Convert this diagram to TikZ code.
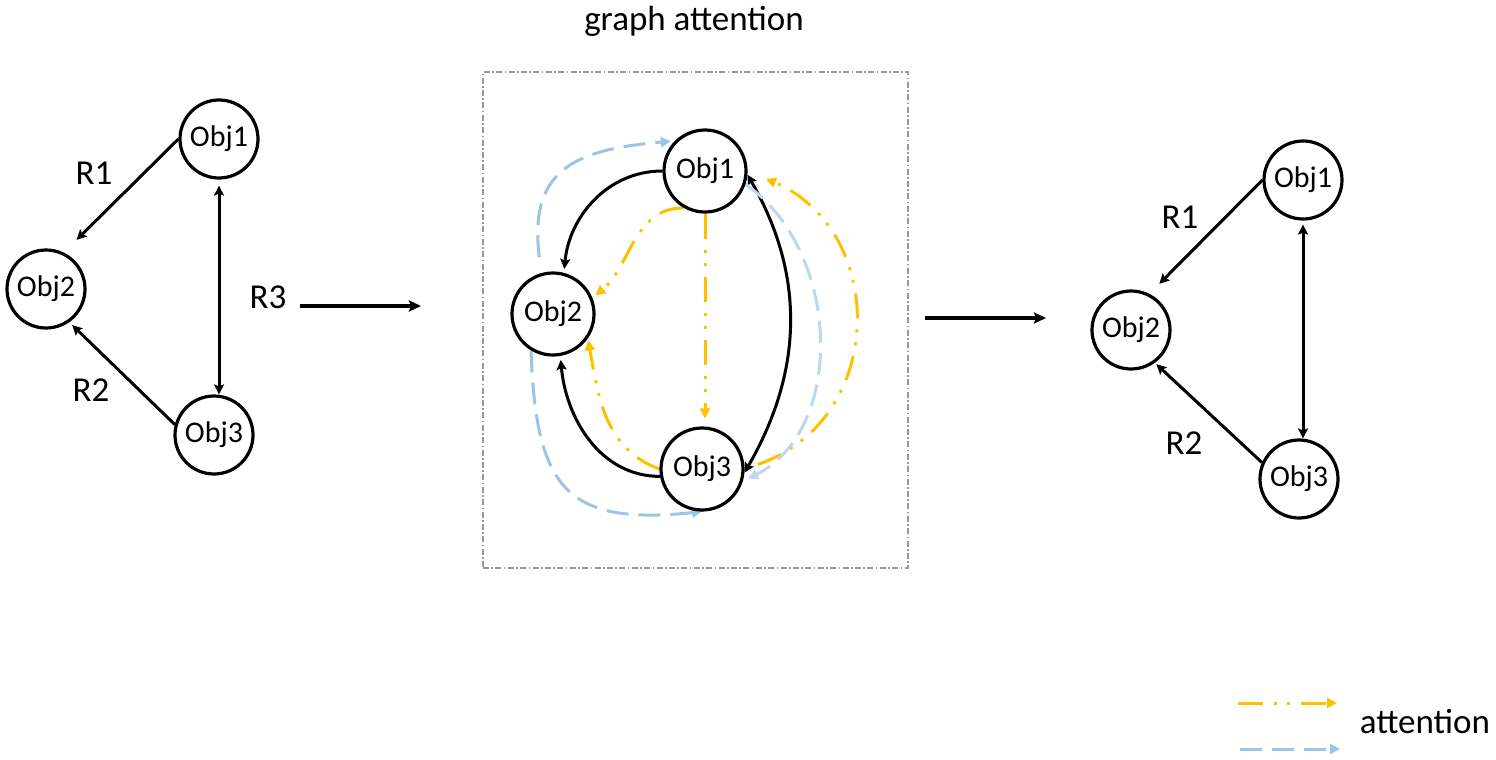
\documentclass[tikz,border=0pt]{standalone}
\usepackage{fontspec}
\setmainfont{Carlito}
\usetikzlibrary{arrows.meta}
\pgfdeclarelayer{bg}
\pgfsetlayers{bg,main}
\definecolor{attnyellow}{HTML}{FFC000}
\definecolor{attnblue}{HTML}{9DC3E6}
\definecolor{attnpale}{HTML}{BDD7EE}
\tikzset{
  obj/.style={circle, draw, line width=1.6pt, fill=white, minimum size=39pt,
    inner sep=0pt, font=\fontsize{15}{17}\selectfont},
  bigobj/.style={obj, minimum size=41pt},
  rel/.style={font=\fontsize{17.5}{20}\selectfont},
  relarrow/.style={line width=1.5pt, -{Stealth[length=5pt,width=5pt,inset=1pt]}},
  dblarrow/.style={line width=1.5pt,
    {Stealth[length=5pt,width=5pt,inset=1pt]}-{Stealth[length=5pt,width=5pt,inset=1pt]}},
  steparrow/.style={line width=1.8pt, -{Stealth[length=6pt,width=5.5pt,inset=1pt]}},
  yattn/.style={attnyellow, line width=1.5pt,
    dash pattern=on 12.5pt off 5.5pt on 1.5pt off 5pt on 1.5pt off 5.5pt,
    -{Triangle[length=5pt,width=5pt]}},
  battn/.style={attnblue, line width=1.5pt, dash pattern=on 11pt off 5pt,
    -{Triangle[length=5pt,width=5pt]}},
  gbox/.style={draw=gray!80, line width=0.6pt,
    dash pattern=on 3pt off 1.2pt on 0.8pt off 1.2pt,
    minimum width=212.5pt, minimum height=248pt}
}
\begin{document}
\begin{tikzpicture}[x=0.5pt,y=0.5pt]
        \useasboundingbox (0,0) rectangle (1496,-760);
        % input graph
        \node (l1) [obj] at (219,-139) {Obj1};
        \node (l2) [obj] at (46,-289) {Obj2};
        \node (l3) [obj] at (214,-435) {Obj3};
        \node (lr1) [rel] at (94,-173) {R1};
        \node (lr2) [rel] at (91,-390) {R2};
        \node (lr3) [rel] at (268,-297) {R3};
        % graph attention
        \node (title) [rel] at (694,-21) {graph attention};
        \node (gbox) [gbox] at (695.5,-320) {};
        \node (m1) [bigobj] at (705,-171) {Obj1};
        \node (m2) [bigobj] at (553,-314) {Obj2};
        \node (m3) [bigobj] at (702,-469) {Obj3};
        % output graph
        \node (r1) [obj] at (1303,-180) {Obj1};
        \node (r2) [obj] at (1131,-330) {Obj2};
        \node (r3) [obj] at (1299,-479) {Obj3};
        \node (rr1) [rel] at (1180,-217) {R1};
        \node (rr2) [rel] at (1184,-443) {R2};
        % legend
        \coordinate (ly1) at (1238,-703);
        \coordinate (ly2) at (1337,-703);
        \coordinate (lb1) at (1240,-749);
        \coordinate (lb2) at (1340,-749);
        \node (legend) [rel] at (1425,-722) {attention};
        % step arrows
        \coordinate (s1) at (300,-306);
        \coordinate (s2) at (421,-306);
        \coordinate (s3) at (925,-318);
        \coordinate (s4) at (1046,-318);
        \begin{pgfonlayer}{bg}
                \draw (l1.west) edge [relarrow, shorten >=9pt] (l2.64);
                \draw (l3.165) edge [relarrow, shorten >=2pt] (l2.-55);
                \draw (l1.south) edge [dblarrow, shorten <=3pt] (l1.south |- l3.north);
                \draw (s1) edge [steparrow] (s2);
                \draw (s3) edge [steparrow] (s4);
                \draw (m1.west) edge [relarrow, out=180, in=85, shorten >=2pt] (m2.75);
                \draw (m3.190) edge [relarrow, out=180, in=-85, shorten >=2pt] (m2.-80);
                \draw (m1.-5) edge [dblarrow, out=-60, in=60] (m3.-5);
                \draw (m1.240) edge [yattn, out=180, in=40, shorten >=2pt] (m2.22);
                \draw (m1.south) edge [yattn, shorten >=4pt] (m1.south |- m3.north);
                \draw (m3.west) edge [yattn, out=160, in=-80, shorten >=1pt] (m2.-35);
                \draw (m3.east) edge [yattn, out=19, in=-23, looseness=1.3, shorten <=7pt, shorten >=10pt] (m1.east);
                \draw (m2.106) edge [battn, out=97, in=185, looseness=1.4, shorten <=8pt, shorten >=2pt] (m1.135);
                \draw (m2.239) edge [battn, out=-88, in=186, looseness=1.5] (m3.south);
                \draw (m1.-18) edge [battn, attnpale, out=-35, in=27, shorten >=3pt] (m3.-17);
                \draw (r1.west) edge [relarrow, shorten >=7pt] (r2.63);
                \draw (r3.156) edge [relarrow, shorten >=1pt] (r2.-54);
                \draw (r1.south) edge [dblarrow, shorten <=2pt] (r1.south |- r3.north);
                \draw (ly1) edge [yattn] (ly2);
                \draw (lb1) edge [battn] (lb2);
        \end{pgfonlayer}
\end{tikzpicture}
\end{document}
